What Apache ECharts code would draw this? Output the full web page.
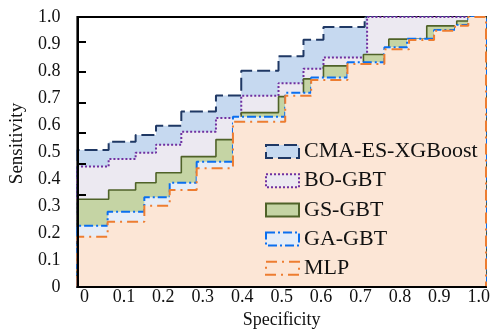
<!DOCTYPE html>
<html>
<head>
<meta charset="utf-8">
<script src="https://cdn.jsdelivr.net/npm/echarts@6/dist/echarts.min.js"></script>
<style>
html,body{margin:0;padding:0;background:#fff;}
#chart{width:493px;height:334px;}
</style>
</head>
<body>
<div id="chart"></div>
<script>
// ---- data ----
const seriesNames = ['CMA-ES-XGBoost', 'BO-GBT', 'GS-GBT', 'GA-GBT', 'MLP'];

const cmaX = [0, 0.0765, 0.1425, 0.1924, 0.2543, 0.3391, 0.401, 0.4922, 0.5533, 0.6022, 0.703, 1];
const cmaY = [0.507, 0.538, 0.563, 0.597, 0.650, 0.709, 0.801, 0.855, 0.916, 0.963, 1.0, 1.0];

const boX = [0, 0.0765, 0.1425, 0.1924, 0.2543, 0.3391, 0.401, 0.4922, 0.5533, 0.6022, 0.709, 1];
const boY = [0.446, 0.474, 0.497, 0.527, 0.575, 0.626, 0.708, 0.755, 0.808, 0.850, 1.0, 1.0];

const gsX = [0, 0.0765, 0.1425, 0.1924, 0.2543, 0.3391, 0.401, 0.4922, 0.5533, 0.6022, 0.700, 0.7621, 0.855, 0.9284, 0.9567, 1];
const gsY = [0.325, 0.359, 0.386, 0.423, 0.483, 0.546, 0.646, 0.705, 0.771, 0.819, 0.861, 0.918, 0.967, 0.985, 1.0, 1.0];

const gaX = [0, 0.074, 0.1638, 0.2259, 0.2919, 0.3807, 0.5086, 0.5721, 0.6609, 0.7513, 0.8068, 0.8729, 0.9242, 0.9567, 1];
const gaY = [0.227, 0.279, 0.332, 0.386, 0.464, 0.631, 0.719, 0.776, 0.832, 0.888, 0.919, 0.952, 0.970, 1.0, 1.0];

const mlpX = [0, 0.074, 0.1638, 0.2259, 0.2919, 0.3807, 0.5086, 0.5721, 0.6609, 0.7513, 0.8117, 0.8729, 0.9242, 0.9567, 1];
const mlpY = [0.186, 0.242, 0.301, 0.359, 0.440, 0.612, 0.708, 0.767, 0.826, 0.881, 0.915, 0.949, 0.968, 1.0, 1.0];

const tickLabels = [0, 0.1, 0.2, 0.3, 0.4, 0.5, 0.6, 0.7, 0.8, 0.9, 1.0];

// ---- styles ----
const FONT = 'Liberation Serif';
const styles = [
  {line: '#1f3864', fill: '#c6d9f0', dash: [13, 5], width: 2},
  {line: '#7030a0', fill: '#ece9f1', dash: [2, 2], width: 2},
  {line: '#4f6228', fill: '#c5d4a4', dash: 'solid', width: 1.6},
  {line: '#0a6fef', fill: '#e6edf7', dash: [9, 3, 2, 3], width: 2},
  {line: '#ed7d31', fill: '#fce6d6', dash: [11, 5, 2, 5], width: 2}
];

function buildData(xs, ys) {
  const d = [[0, 0]];
  for (let i = 0; i < xs.length; i++) d.push([xs[i], ys[i]]);
  d.push([1, 0]); // close patch along right edge
  return d;
}
const allX = [cmaX, boX, gsX, gaX, mlpX];
const allY = [cmaY, boY, gsY, gaY, mlpY];

const series = seriesNames.map((name, i) => ({
  name: name,
  type: 'line',
  step: 'end',
  xAxisIndex: 0,
  yAxisIndex: 0,
  data: buildData(allX[i], allY[i]),
  showSymbol: false,
  symbol: 'none',
  silent: true,
  animation: false,
  z: 2 + i,
  lineStyle: {color: styles[i].line, width: styles[i].width, type: styles[i].dash},
  itemStyle: {color: styles[i].line},
  areaStyle: {color: styles[i].fill, opacity: 1, origin: 'start'}
}));

const fmt = v => (Math.abs(v) < 1e-9 ? '0' : v.toFixed(1));

const option = {
  backgroundColor: '#fff',
  animation: false,
  textStyle: {fontFamily: FONT},
  grid: [
    {left: 77, right: 7, top: 17, bottom: 47, show: true, borderColor: '#000', borderWidth: 2, backgroundColor: 'transparent'},
    {left: 84.5, right: 13, top: 17, bottom: 47},
    {left: 77, right: 7, top: 17, bottom: 139.7}
  ],
  xAxis: [
    {type: 'value', gridIndex: 0, min: 0, max: 1, z: 10,
     axisLine: {show: true, lineStyle: {color: '#000', width: 2}},
     axisTick: {show: false}, axisLabel: {show: false}, splitLine: {show: false}},
    {type: 'value', gridIndex: 1, min: 0, max: 1, interval: 0.1,
     axisLine: {show: false}, axisTick: {show: false}, splitLine: {show: false},
     axisLabel: {formatter: fmt, fontFamily: FONT, fontSize: 18, color: '#111', margin: 11},
     name: 'Specificity', nameLocation: 'middle', nameGap: 30,
     nameTextStyle: {fontFamily: FONT, fontSize: 18, color: '#111'}},
    {type: 'value', gridIndex: 2, min: 0, max: 1, show: false}
  ],
  yAxis: [
    {type: 'value', gridIndex: 0, min: 0, max: 1, interval: 0.1, z: 10,
     axisLine: {show: true, lineStyle: {color: '#000', width: 2}},
     axisTick: {show: false}, splitLine: {show: false},
     axisLabel: {formatter: fmt, fontFamily: FONT, fontSize: 18, color: '#111', margin: 17},
     name: 'Sensitivity', nameLocation: 'middle', nameGap: 50, nameRotate: 90,
     nameTextStyle: {fontFamily: FONT, fontSize: 19, color: '#111', padding: [0, 0, 0, 17]}},
    {type: 'value', gridIndex: 1, min: 0, max: 1, show: false},
    {type: 'value', gridIndex: 2, min: 3, max: 8.794, interval: 1, z: 10,
     axisLine: {show: false}, splitLine: {show: false}, axisLabel: {show: false},
     axisTick: {show: true, inside: true, length: 9, lineStyle: {color: '#000', width: 2}}}
  ],
  legend: {
    z: 30,
    orient: 'vertical',
    left: 260,
    top: 135.5,
    itemWidth: 33,
    itemHeight: 13,
    itemGap: 7.2,
    icon: 'rect',
    selectedMode: false,
    textStyle: {fontFamily: FONT, fontSize: 22, color: '#111'},
    data: seriesNames.map((n, i) => ({
      name: n,
      icon: 'rect',
      itemStyle: {color: styles[i].fill, borderColor: styles[i].line, borderWidth: 2, borderType: styles[i].dash}
    }))
  },
  series: series
};

const chart = echarts.init(document.getElementById('chart'), null, {renderer: 'canvas'});
chart.setOption(option);
</script>
</body>
</html>
